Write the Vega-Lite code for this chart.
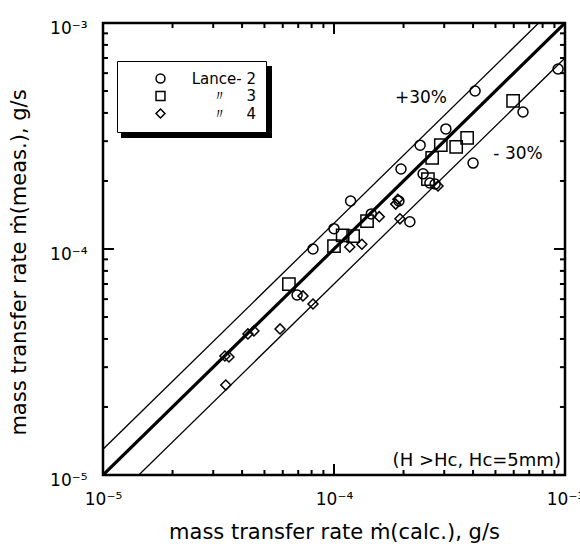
{
  "$schema": "https://vega.github.io/schema/vega-lite/v6.json",
  "width": 462,
  "height": 452,
  "autosize": "none",
  "padding": {"left": 103, "top": 23, "right": 15, "bottom": 72},
  "background": "white",
  "config": {
    "font": "DejaVu Sans",
    "view": {"stroke": "black", "strokeWidth": 2.5},
    "axis": {"grid": false, "domain": false, "ticks": false, "tickSize": 0, "labelColor": "black", "titleColor": "black", "labelFlush": false, "labelOverlap": false}
  },
  "datasets": {
    "refs": [
      {"ref": "1:1", "calc": 1e-5, "meas": 1e-5},
      {"ref": "1:1", "calc": 1e-3, "meas": 1e-3},
      {"ref": "+30%", "calc": 1e-5, "meas": 1.3e-5},
      {"ref": "+30%", "calc": 1e-3, "meas": 1.3e-3},
      {"ref": "-30%", "calc": 1e-5, "meas": 7e-6},
      {"ref": "-30%", "calc": 1e-3, "meas": 7e-4}
    ],
    "majorTicks": [{"v": 1e-5}, {"v": 1e-4}, {"v": 1e-3}],
    "minorTicks": [
      {"v": 2e-5}, {"v": 3e-5}, {"v": 4e-5}, {"v": 5e-5}, {"v": 6e-5}, {"v": 7e-5}, {"v": 8e-5}, {"v": 9e-5},
      {"v": 2e-4}, {"v": 3e-4}, {"v": 4e-4}, {"v": 5e-4}, {"v": 6e-4}, {"v": 7e-4}, {"v": 8e-4}, {"v": 9e-4}
    ],
    "runs": [
      {"series": "Lance- 2", "calc": 9.33e-4, "meas": 6.26e-4},
      {"series": "Lance- 2", "calc": 4.08e-4, "meas": 5.0e-4},
      {"series": "Lance- 2", "calc": 6.58e-4, "meas": 4.04e-4},
      {"series": "Lance- 2", "calc": 3.05e-4, "meas": 3.4e-4},
      {"series": "Lance- 2", "calc": 2.36e-4, "meas": 2.88e-4},
      {"series": "Lance- 2", "calc": 4.0e-4, "meas": 2.4e-4},
      {"series": "Lance- 2", "calc": 1.95e-4, "meas": 2.26e-4},
      {"series": "Lance- 2", "calc": 2.43e-4, "meas": 2.15e-4},
      {"series": "Lance- 2", "calc": 2.6e-4, "meas": 1.96e-4},
      {"series": "Lance- 2", "calc": 2.74e-4, "meas": 1.94e-4},
      {"series": "Lance- 2", "calc": 1.18e-4, "meas": 1.63e-4},
      {"series": "Lance- 2", "calc": 2.13e-4, "meas": 1.32e-4},
      {"series": "Lance- 2", "calc": 1.0e-4, "meas": 1.23e-4},
      {"series": "Lance- 2", "calc": 8.11e-5, "meas": 1.0e-4},
      {"series": "Lance- 2", "calc": 1.45e-4, "meas": 1.43e-4},
      {"series": "Lance- 2", "calc": 1.91e-4, "meas": 1.63e-4},
      {"series": "Lance- 2", "calc": 6.92e-5, "meas": 6.26e-5},
      {"series": "〃 3", "calc": 5.96e-4, "meas": 4.52e-4},
      {"series": "〃 3", "calc": 3.77e-4, "meas": 3.1e-4},
      {"series": "〃 3", "calc": 3.38e-4, "meas": 2.83e-4},
      {"series": "〃 3", "calc": 2.9e-4, "meas": 2.88e-4},
      {"series": "〃 3", "calc": 2.66e-4, "meas": 2.53e-4},
      {"series": "〃 3", "calc": 2.55e-4, "meas": 2.04e-4},
      {"series": "〃 3", "calc": 1.09e-4, "meas": 1.15e-4},
      {"series": "〃 3", "calc": 1.0e-4, "meas": 1.03e-4},
      {"series": "〃 3", "calc": 1.39e-4, "meas": 1.33e-4},
      {"series": "〃 3", "calc": 6.38e-5, "meas": 7.0e-5},
      {"series": "〃 3", "calc": 1.21e-4, "meas": 1.14e-4},
      {"series": "〃 4", "calc": 1.89e-4, "meas": 1.66e-4},
      {"series": "〃 4", "calc": 1.93e-4, "meas": 1.36e-4},
      {"series": "〃 4", "calc": 1.57e-4, "meas": 1.39e-4},
      {"series": "〃 4", "calc": 1.17e-4, "meas": 1.02e-4},
      {"series": "〃 4", "calc": 1.32e-4, "meas": 1.05e-4},
      {"series": "〃 4", "calc": 7.34e-5, "meas": 6.2e-5},
      {"series": "〃 4", "calc": 8.11e-5, "meas": 5.71e-5},
      {"series": "〃 4", "calc": 4.24e-5, "meas": 4.21e-5},
      {"series": "〃 4", "calc": 4.5e-5, "meas": 4.34e-5},
      {"series": "〃 4", "calc": 5.84e-5, "meas": 4.43e-5},
      {"series": "〃 4", "calc": 1.85e-4, "meas": 1.58e-4},
      {"series": "〃 4", "calc": 2.82e-4, "meas": 1.9e-4},
      {"series": "〃 4", "calc": 3.37e-5, "meas": 3.36e-5},
      {"series": "〃 4", "calc": 3.51e-5, "meas": 3.33e-5},
      {"series": "〃 4", "calc": 3.4e-5, "meas": 2.5e-5}
    ]
  },
  "layer": [
    {
      "data": {"values": [{}]},
      "mark": {"type": "rect", "fill": "black"},
      "encoding": {
        "x": {"datum": 1.196e-5, "type": "quantitative", "scale": {"type": "log", "domain": [1e-5, 1e-3]}, "axis": null},
        "x2": {"datum": 5.39e-5},
        "y": {"datum": 6.45e-4, "type": "quantitative", "scale": {"type": "log", "domain": [1e-5, 1e-3]}, "axis": null},
        "y2": {"datum": 3.1e-4}
      }
    },
    {
      "data": {"name": "majorTicks"},
      "mark": {"type": "rule", "color": "black", "strokeWidth": 2},
      "encoding": {
        "x": {"field": "v", "type": "quantitative", "scale": {"type": "log", "domain": [1e-5, 1e-3]}, "axis": null},
        "y": {"datum": 1e-5, "type": "quantitative", "scale": {"type": "log", "domain": [1e-5, 1e-3]}, "axis": null},
        "y2": {"datum": 1.119e-5}
      }
    },
    {
      "data": {"name": "minorTicks"},
      "mark": {"type": "rule", "color": "black", "strokeWidth": 2},
      "encoding": {
        "x": {"field": "v", "type": "quantitative", "scale": {"type": "log", "domain": [1e-5, 1e-3]}, "axis": null},
        "y": {"datum": 1e-5, "type": "quantitative", "scale": {"type": "log", "domain": [1e-5, 1e-3]}, "axis": null},
        "y2": {"datum": 1.052e-5}
      }
    },
    {
      "data": {"name": "majorTicks"},
      "mark": {"type": "rule", "color": "black", "strokeWidth": 2},
      "encoding": {
        "x": {"field": "v", "type": "quantitative", "scale": {"type": "log", "domain": [1e-5, 1e-3]}, "axis": null},
        "y": {"datum": 1e-3, "type": "quantitative", "scale": {"type": "log", "domain": [1e-5, 1e-3]}, "axis": null},
        "y2": {"datum": 8.94e-4}
      }
    },
    {
      "data": {"name": "minorTicks"},
      "mark": {"type": "rule", "color": "black", "strokeWidth": 2},
      "encoding": {
        "x": {"field": "v", "type": "quantitative", "scale": {"type": "log", "domain": [1e-5, 1e-3]}, "axis": null},
        "y": {"datum": 1e-3, "type": "quantitative", "scale": {"type": "log", "domain": [1e-5, 1e-3]}, "axis": null},
        "y2": {"datum": 9.5e-4}
      }
    },
    {
      "data": {"name": "majorTicks"},
      "mark": {"type": "rule", "color": "black", "strokeWidth": 2},
      "encoding": {
        "y": {"field": "v", "type": "quantitative", "scale": {"type": "log", "domain": [1e-5, 1e-3]}, "axis": null},
        "x": {"datum": 1e-5, "type": "quantitative", "scale": {"type": "log", "domain": [1e-5, 1e-3]}, "axis": null},
        "x2": {"datum": 1.116e-5}
      }
    },
    {
      "data": {"name": "minorTicks"},
      "mark": {"type": "rule", "color": "black", "strokeWidth": 2},
      "encoding": {
        "y": {"field": "v", "type": "quantitative", "scale": {"type": "log", "domain": [1e-5, 1e-3]}, "axis": null},
        "x": {"datum": 1e-5, "type": "quantitative", "scale": {"type": "log", "domain": [1e-5, 1e-3]}, "axis": null},
        "x2": {"datum": 1.051e-5}
      }
    },
    {
      "data": {"name": "majorTicks"},
      "mark": {"type": "rule", "color": "black", "strokeWidth": 2},
      "encoding": {
        "y": {"field": "v", "type": "quantitative", "scale": {"type": "log", "domain": [1e-5, 1e-3]}, "axis": null},
        "x": {"datum": 1e-3, "type": "quantitative", "scale": {"type": "log", "domain": [1e-5, 1e-3]}, "axis": null},
        "x2": {"datum": 8.96e-4}
      }
    },
    {
      "data": {"name": "minorTicks"},
      "mark": {"type": "rule", "color": "black", "strokeWidth": 2},
      "encoding": {
        "y": {"field": "v", "type": "quantitative", "scale": {"type": "log", "domain": [1e-5, 1e-3]}, "axis": null},
        "x": {"datum": 1e-3, "type": "quantitative", "scale": {"type": "log", "domain": [1e-5, 1e-3]}, "axis": null},
        "x2": {"datum": 9.51e-4}
      }
    },
    {
      "data": {"name": "refs"},
      "transform": [{"filter": "datum.ref !== '1:1'"}],
      "mark": {"type": "line", "clip": true, "color": "black", "strokeWidth": 1.3},
      "encoding": {
        "x": {"field": "calc", "type": "quantitative", "scale": {"type": "log", "domain": [1e-5, 1e-3]},
          "axis": {"orient": "bottom", "values": [1e-5, 1e-4, 1e-3],
            "labelExpr": "datum.value < 5e-5 ? '10⁻⁵' : datum.value < 5e-4 ? '10⁻⁴' : '10⁻³'",
            "labelFontSize": 17, "labelPadding": 16,
            "title": "mass transfer rate ṁ(calc.),  g/s", "titleFontSize": 21, "titleFontWeight": "normal",
            "titleY": 63, "titleBaseline": "alphabetic"}},
        "y": {"field": "meas", "type": "quantitative", "scale": {"type": "log", "domain": [1e-5, 1e-3]},
          "axis": {"orient": "left", "values": [1e-5, 1e-4, 1e-3],
            "labelExpr": "datum.value < 5e-5 ? '10⁻⁵' : datum.value < 5e-4 ? '10⁻⁴' : '10⁻³'",
            "labelFontSize": 17, "labelPadding": 16, "labelOffset": 5,
            "title": "mass transfer rate ṁ(meas.),  g/s", "titleFontSize": 21, "titleFontWeight": "normal",
            "titleX": -78, "titleY": 239, "titleAngle": 270, "titleAlign": "center", "titleBaseline": "alphabetic"}},
        "detail": {"field": "ref"}
      }
    },
    {
      "data": {"name": "refs"},
      "transform": [{"filter": "datum.ref === '1:1'"}],
      "mark": {"type": "line", "clip": true, "color": "black", "strokeWidth": 3.2},
      "encoding": {
        "x": {"field": "calc", "type": "quantitative", "scale": {"type": "log", "domain": [1e-5, 1e-3]}, "axis": null},
        "y": {"field": "meas", "type": "quantitative", "scale": {"type": "log", "domain": [1e-5, 1e-3]}, "axis": null}
      }
    },
    {
      "data": {"name": "runs"},
      "mark": {"type": "point", "filled": false, "color": "black", "strokeWidth": 1.5, "opacity": 1},
      "encoding": {
        "x": {"field": "calc", "type": "quantitative", "scale": {"type": "log", "domain": [1e-5, 1e-3]}, "axis": null},
        "y": {"field": "meas", "type": "quantitative", "scale": {"type": "log", "domain": [1e-5, 1e-3]}, "axis": null},
        "shape": {"field": "series", "type": "nominal",
          "scale": {"domain": ["Lance- 2", "〃 3", "〃 4"], "range": ["circle", "square", "diamond"]},
          "legend": {"orient": "none", "legendX": 14, "legendY": 38, "title": null,
            "strokeColor": "black", "fillColor": "white", "padding": 10,
            "labelFontSize": 15, "labelColor": "black", "symbolSize": 80, "symbolStrokeWidth": 1.5,
            "symbolStrokeColor": "black", "symbolOffset": 26, "labelOffset": 88, "labelAlign": "right", "rowPadding": 1.5,
            "labelExpr": "replace(datum.label, '〃 ', '〃\u00a0\u00a0\u00a0\u00a0')"}},
        "size": {"condition": {"test": "datum.series === '〃 3'", "value": 150}, "value": 100}
      }
    },
    {
      "data": {"values": [{}]},
      "mark": {"type": "text", "text": "+30%", "fontSize": 17, "align": "center", "baseline": "middle", "color": "black"},
      "encoding": {
        "x": {"datum": 2.38e-4, "type": "quantitative", "scale": {"type": "log", "domain": [1e-5, 1e-3]}, "axis": null},
        "y": {"datum": 4.66e-4, "type": "quantitative", "scale": {"type": "log", "domain": [1e-5, 1e-3]}, "axis": null}
      }
    },
    {
      "data": {"values": [{}]},
      "mark": {"type": "text", "text": "- 30%", "fontSize": 17, "align": "center", "baseline": "middle", "color": "black"},
      "encoding": {
        "x": {"datum": 6.26e-4, "type": "quantitative", "scale": {"type": "log", "domain": [1e-5, 1e-3]}, "axis": null},
        "y": {"datum": 2.63e-4, "type": "quantitative", "scale": {"type": "log", "domain": [1e-5, 1e-3]}, "axis": null}
      }
    },
    {
      "data": {"values": [{}]},
      "mark": {"type": "text", "text": "(H >Hc, Hc=5mm)", "fontSize": 18, "align": "right", "baseline": "middle", "color": "black"},
      "encoding": {
        "x": {"datum": 9.6e-4, "type": "quantitative", "scale": {"type": "log", "domain": [1e-5, 1e-3]}, "axis": null},
        "y": {"datum": 1.15e-5, "type": "quantitative", "scale": {"type": "log", "domain": [1e-5, 1e-3]}, "axis": null}
      }
    }
  ],
  "resolve": {"axis": {"x": "independent", "y": "independent"}}
}
